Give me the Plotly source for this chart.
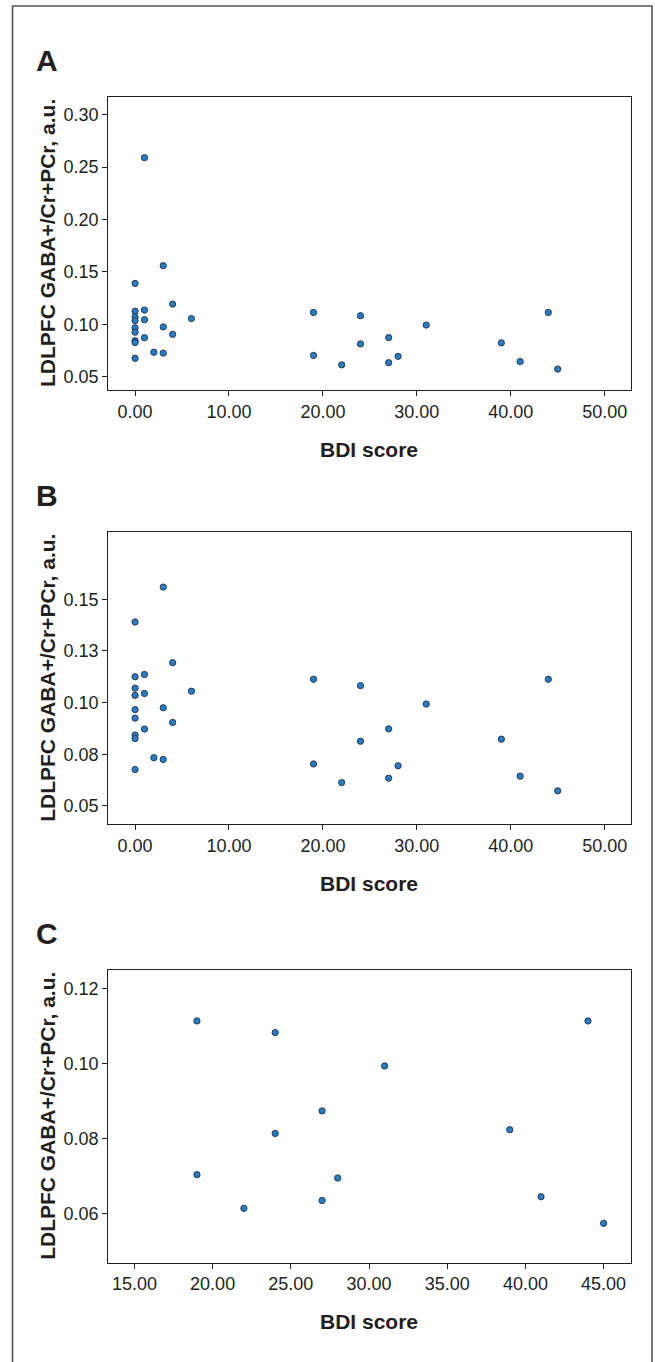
import plotly.graph_objects as go

# ---------------- data ----------------
bdi_all = [0, 0, 0, 0, 0, 0, 0, 0, 0,
           1, 1, 1, 1,
           2,
           3, 3, 3,
           4, 4,
           6,
           19, 19, 22, 24, 24, 27, 27, 28, 31, 39, 41, 44, 45]
gaba_all = [0.139, 0.1125, 0.107, 0.1035, 0.0966, 0.0925, 0.0843, 0.0826, 0.0676,
            0.259, 0.1136, 0.1044, 0.0872,
            0.0733,
            0.1559, 0.0975, 0.0725,
            0.1193, 0.0904,
            0.1055,
            0.1113, 0.0703, 0.0613, 0.1082, 0.0813, 0.0873, 0.0634, 0.0694,
            0.0993, 0.0823, 0.0644, 0.1113, 0.0573]

# panel B: outlier removed
bdi_b = [b for b, g in zip(bdi_all, gaba_all) if g < 0.2]
gaba_b = [g for g in gaba_all if g < 0.2]

# panel C: depressed subjects only
bdi_c = [19, 19, 22, 24, 24, 27, 27, 28, 31, 39, 41, 44, 45]
gaba_c = [0.1113, 0.0703, 0.0613, 0.1082, 0.0813, 0.0873, 0.0634, 0.0694,
          0.0993, 0.0823, 0.0644, 0.1113, 0.0573]

xticks_ab = [0, 10, 20, 30, 40, 50]
yticks_a = [0.05, 0.10, 0.15, 0.20, 0.25, 0.30]
yticks_b = [0.05, 0.075, 0.10, 0.125, 0.15]
yticks_b_text = ["0.05", "0.08", "0.10", "0.13", "0.15"]
xticks_c = [15, 20, 25, 30, 35, 40, 45]
yticks_c = [0.06, 0.08, 0.10, 0.12]

# ---------------- layout helpers ----------------
W, H = 655, 1362
FONT = "Liberation Sans, Arial, Helvetica, sans-serif"
INK = "#231f20"


def py(px):
    return 1 - px / H


x_dom = [108.3 / W, 630.5 / W]
panels = [  # (top px, bottom px)
    (97.0, 390.0),
    (532.3, 824.3),
    (970.0, 1262.7),
]

marker = dict(size=6.3, color="#2a7bc0", line=dict(color="#1b3350", width=0.9))

fig = go.Figure()
fig.add_trace(go.Scatter(x=bdi_all, y=gaba_all, mode="markers", marker=marker,
                         xaxis="x", yaxis="y", showlegend=False))
fig.add_trace(go.Scatter(x=bdi_b, y=gaba_b, mode="markers", marker=marker,
                         xaxis="x2", yaxis="y2", showlegend=False))
fig.add_trace(go.Scatter(x=bdi_c, y=gaba_c, mode="markers", marker=marker,
                         xaxis="x3", yaxis="y3", showlegend=False))

common = dict(showline=True, mirror=True, linecolor=INK, linewidth=1.3,
              ticks="outside", ticklen=5, tickwidth=1.3, tickcolor=INK,
              showgrid=False, zeroline=False,
              tickfont=dict(family=FONT, size=18, color=INK))

layout = dict(
    width=W, height=H,
    margin=dict(l=0, r=0, t=0, b=0),
    paper_bgcolor="white", plot_bgcolor="white",
    font=dict(family=FONT, color=INK),
)

# Panel A
layout["xaxis"] = dict(common, domain=x_dom, anchor="y", range=[-2.85, 52.75],
                       tickvals=xticks_ab, tickformat=".2f")
layout["yaxis"] = dict(common, domain=[py(panels[0][1]), py(panels[0][0])], anchor="x",
                       range=[0.0373, 0.3169], tickvals=yticks_a, tickformat=".2f")
# Panel B
layout["xaxis2"] = dict(common, domain=x_dom, anchor="y2", range=[-2.85, 52.75],
                        tickvals=xticks_ab, tickformat=".2f")
layout["yaxis2"] = dict(common, domain=[py(panels[1][1]), py(panels[1][0])], anchor="x2",
                        range=[0.0411, 0.1824], tickvals=yticks_b, ticktext=yticks_b_text)
# Panel C
layout["xaxis3"] = dict(common, domain=x_dom, anchor="y3", range=[13.33, 46.72],
                        tickvals=xticks_c, tickformat=".2f")
layout["yaxis3"] = dict(common, domain=[py(panels[2][1]), py(panels[2][0])], anchor="x3",
                        range=[0.0468, 0.1249], tickvals=yticks_c, tickformat=".2f")

annotations = []
xc = (x_dom[0] + x_dom[1]) / 2
for label, (top, bot) in zip(["A", "B", "C"], panels):
    annotations.append(dict(text="<b>%s</b>" % label, x=46.5 / W, y=py(top - 37),
                            xref="paper", yref="paper", showarrow=False,
                            xanchor="center", yanchor="middle",
                            font=dict(family=FONT, size=30, color=INK)))
    annotations.append(dict(text="<b>LDLPFC GABA+/Cr+PCr, a.u.</b>", x=47.5 / W,
                            y=py((top + bot) / 2), xref="paper", yref="paper",
                            showarrow=False, textangle=-90,
                            xanchor="center", yanchor="middle",
                            font=dict(family=FONT, size=21, color=INK)))
    annotations.append(dict(text="<b>BDI score</b>", x=xc, y=py(bot + 59),
                            xref="paper", yref="paper", showarrow=False,
                            xanchor="center", yanchor="middle",
                            font=dict(family=FONT, size=21, color=INK)))
layout["annotations"] = annotations

layout["shapes"] = [dict(type="rect", xref="paper", yref="paper",
                         x0=12.5 / W, x1=652 / W, y0=-0.02, y1=py(6),
                         line=dict(color="#555555", width=1.6))]

fig.update_layout(**layout)
fig.write_html("out.html", config={"displayModeBar": False},
               post_script="document.body.style.margin='0px';document.body.style.overflow='hidden';")
